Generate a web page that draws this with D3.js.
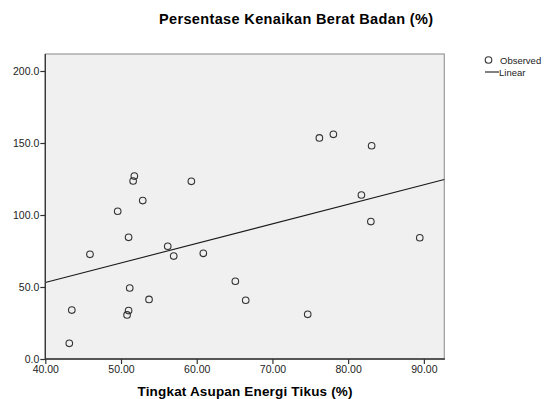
<!DOCTYPE html>
<html>
<head>
<meta charset="utf-8">
<script src="https://cdn.jsdelivr.net/npm/d3@7"></script>
<style>
  body { margin: 0; background: #fff; }
  text { font-family: "Liberation Sans", Arial, sans-serif; }
</style>
</head>
<body>
<svg id="chart" width="549" height="399"></svg>
<script>
const asupanEnergi = [43.17, 43.5, 45.9, 49.56, 51.0, 51.15, 51.0, 50.8, 51.76, 51.6, 52.87, 59.29,
  56.17, 56.96, 60.87, 65.1, 66.47, 53.7, 76.2, 78.05, 83.1, 81.75, 83.0, 89.46, 74.66];
const kenaikanBerat = [10.9, 34, 72.7, 102.6, 84.5, 49.3, 33.6, 30.6, 127, 123.6, 110, 123.4,
  78.3, 71.5, 73.4, 54, 40.8, 41.4, 153.5, 156, 148.1, 113.9, 95.4, 84.2, 31];

const xTicks = [40, 50, 60, 70, 80, 90];
const yTicks = [0, 50, 100, 150, 200];
const legendItems = ['Observed', 'Linear'];

const svg = d3.select('#chart');

const plot = { left: 45.3, right: 444.3, top: 54, bottom: 359 };

const x = d3.scaleLinear().domain([40, 92.7]).range([plot.left, plot.right]);
const y = d3.scaleLinear().domain([0, 211.8]).range([plot.bottom, plot.top]);

// plot background
svg.append('rect')
  .attr('x', plot.left)
  .attr('y', plot.top)
  .attr('width', plot.right - plot.left)
  .attr('height', plot.bottom - plot.top)
  .attr('fill', '#f0f0f0')
  .attr('stroke', '#9a9a9a')
  .attr('stroke-width', 1.2);

// least squares line
const points = asupanEnergi.map((v, i) => ({ x: v, y: kenaikanBerat[i] }));
const mx = d3.mean(points, d => d.x);
const my = d3.mean(points, d => d.y);
const slope = d3.sum(points, d => (d.x - mx) * (d.y - my)) / d3.sum(points, d => (d.x - mx) ** 2);
const intercept = my - slope * mx;
const [x0, x1] = x.domain();

svg.append('line')
  .attr('x1', x(x0))
  .attr('y1', y(intercept + slope * x0))
  .attr('x2', x(x1))
  .attr('y2', y(intercept + slope * x1))
  .attr('stroke', '#1a1a1a')
  .attr('stroke-width', 1.1);

svg.append('g').selectAll('circle')
  .data(points)
  .enter()
  .append('circle')
  .attr('cx', d => x(d.x))
  .attr('cy', d => y(d.y))
  .attr('r', 3.3)
  .attr('fill', 'none')
  .attr('stroke', '#333')
  .attr('stroke-width', 1.1);

// axes
const xAxis = svg.append('g')
  .attr('transform', `translate(0,${plot.bottom})`)
  .call(d3.axisBottom(x).tickValues(xTicks).tickFormat(d3.format('.2f')).tickSize(5).tickPadding(2));

const yAxis = svg.append('g')
  .attr('transform', `translate(${plot.left},0)`)
  .call(d3.axisLeft(y).tickValues(yTicks).tickFormat(d3.format('.1f')).tickSize(5).tickPadding(1));

[xAxis, yAxis].forEach(g => {
  g.select('.domain').remove();
  g.selectAll('.tick line').attr('stroke', '#333').attr('stroke-width', 1.2);
  g.selectAll('.tick text')
    .attr('fill', '#222')
    .style('font-family', '"Liberation Sans", Arial, sans-serif')
    .style('font-size', '10.5px');
});

svg.append('line')
  .attr('x1', plot.left).attr('x2', plot.right + 0.6)
  .attr('y1', plot.bottom).attr('y2', plot.bottom)
  .attr('stroke', '#333').attr('stroke-width', 1.3);
svg.append('line')
  .attr('x1', plot.left).attr('x2', plot.left)
  .attr('y1', plot.top).attr('y2', plot.bottom)
  .attr('stroke', '#333').attr('stroke-width', 1.3);

// titles
svg.append('text')
  .attr('x', 296)
  .attr('y', 24)
  .attr('text-anchor', 'middle')
  .attr('textLength', 274)
  .attr('lengthAdjust', 'spacing')
  .style('font-size', '14.5px')
  .style('font-weight', 'bold')
  .text('Persentase Kenaikan Berat Badan (%)');

svg.append('text')
  .attr('x', 245)
  .attr('y', 396)
  .attr('text-anchor', 'middle')
  .attr('textLength', 215)
  .attr('lengthAdjust', 'spacing')
  .style('font-size', '13.5px')
  .style('font-weight', 'bold')
  .text('Tingkat Asupan Energi Tikus (%)');

// legend
const legend = svg.append('g').attr('transform', 'translate(485,0)');
legend.append('circle')
  .attr('cx', 3.5).attr('cy', 60).attr('r', 3.3)
  .attr('fill', 'none').attr('stroke', '#333').attr('stroke-width', 1.1);
legend.append('line')
  .attr('x1', 0).attr('x2', 14).attr('y1', 72).attr('y2', 72)
  .attr('stroke', '#1a1a1a').attr('stroke-width', 1.1);
legend.selectAll('.legendLabel')
  .data(legendItems)
  .enter()
  .append('text')
  .attr('class', 'legendLabel')
  .attr('x', (d, i) => i === 0 ? 15 : 14)
  .attr('y', (d, i) => 63.5 + i * 12.5)
  .style('font-size', '9.5px')
  .attr('fill', '#222')
  .text(d => d);
</script>
</body>
</html>
